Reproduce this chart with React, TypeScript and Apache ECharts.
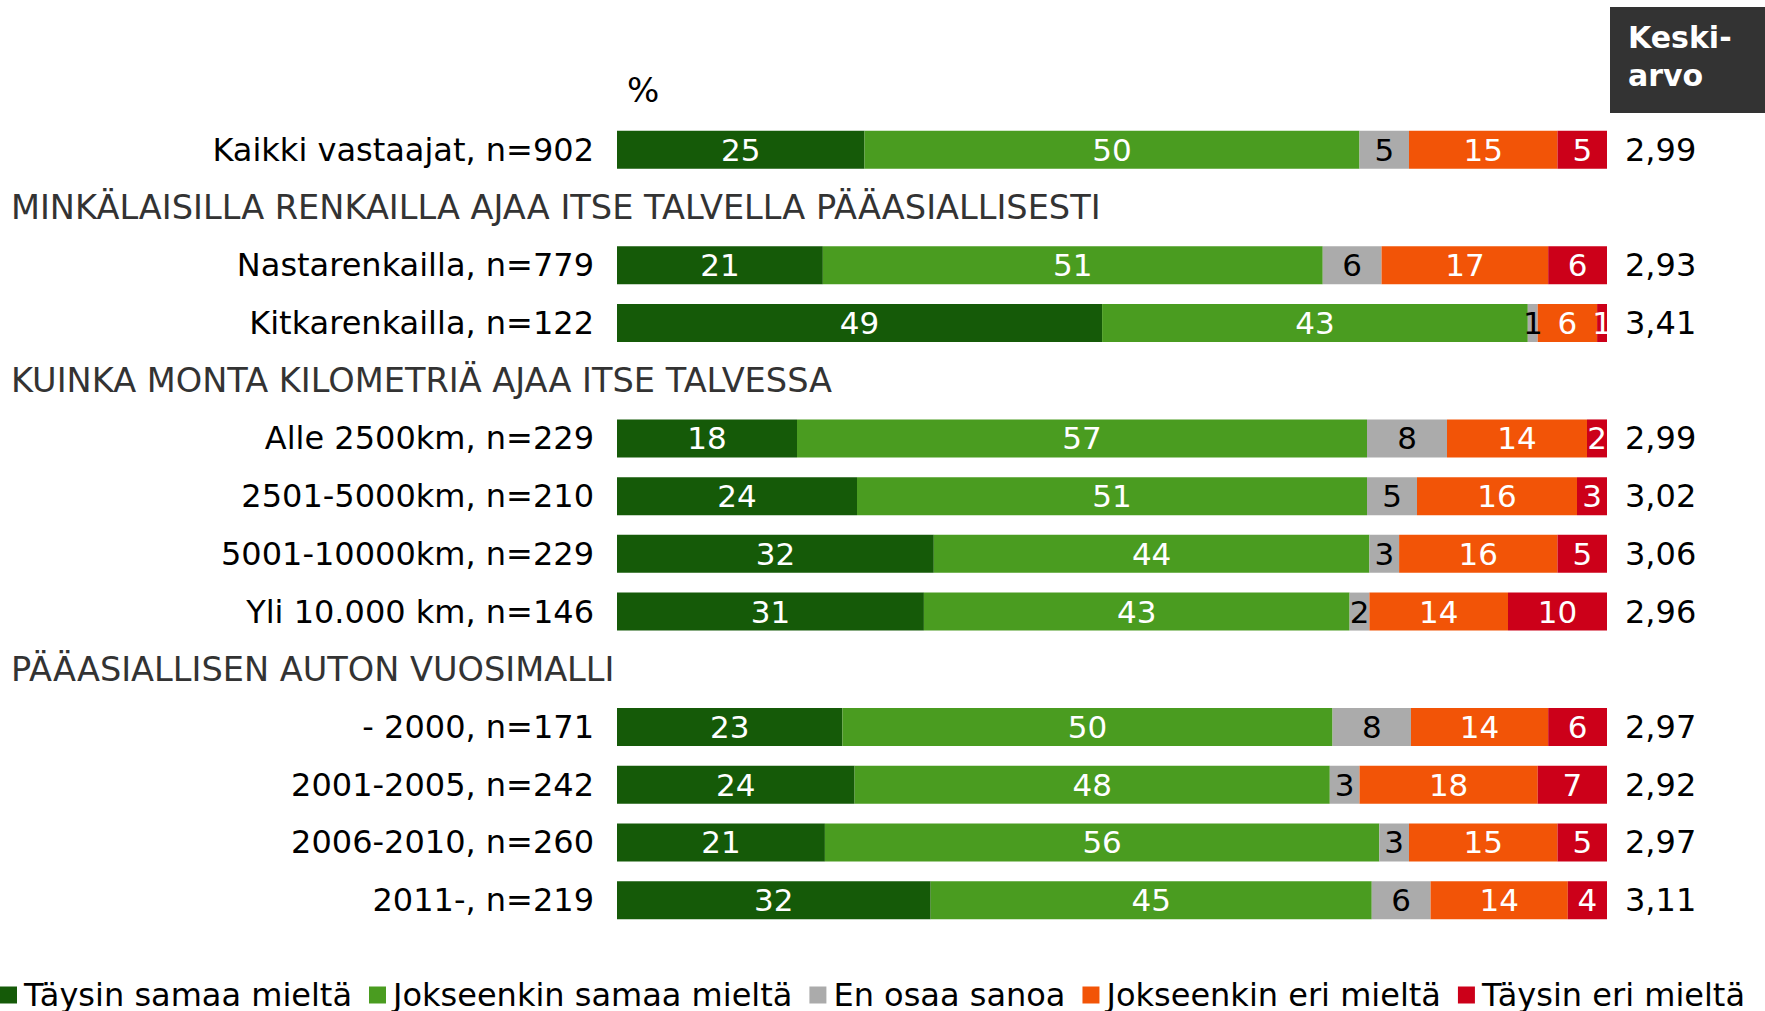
import React, { useEffect, useRef } from "react";
import * as echarts from "echarts";

const categories = [
  "Kaikki vastaajat, n=902",
  "MINKÄLAISILLA RENKAILLA AJAA ITSE TALVELLA PÄÄASIALLISESTI",
  "Nastarenkailla, n=779",
  "Kitkarenkailla, n=122",
  "KUINKA MONTA KILOMETRIÄ AJAA ITSE TALVESSA",
  "Alle 2500km, n=229",
  "2501-5000km, n=210",
  "5001-10000km, n=229",
  "Yli 10.000 km, n=146",
  "PÄÄASIALLISEN AUTON VUOSIMALLI",
  "- 2000, n=171",
  "2001-2005, n=242",
  "2006-2010, n=260",
  "2011-, n=219",
];
const isHeader = [false, true, false, false, true, false, false, false, false, true, false, false, false, false];

const seriesNames = [
  "Täysin samaa mieltä",
  "Jokseenkin samaa mieltä",
  "En osaa sanoa",
  "Jokseenkin eri mieltä",
  "Täysin eri mieltä",
];
const taysinSamaa = [25, null, 21, 49, null, 18, 24, 32, 31, null, 23, 24, 21, 32];
const jokseenkinSamaa = [50, null, 51, 43, null, 57, 51, 44, 43, null, 50, 48, 56, 45];
const enOsaa = [5, null, 6, 1, null, 8, 5, 3, 2, null, 8, 3, 3, 6];
const jokseenkinEri = [15, null, 17, 6, null, 14, 16, 16, 14, null, 14, 18, 15, 14];
const taysinEri = [5, null, 6, 1, null, 2, 3, 5, 10, null, 6, 7, 5, 4];
const means = ["2,99", "", "2,93", "3,41", "", "2,99", "3,02", "3,06", "2,96", "", "2,97", "2,92", "2,97", "3,11"];

const colors = ["#155A08", "#4A9C20", "#ABABAB", "#F25407", "#CC0019"];
const labelColors = ["#fff", "#fff", "#000", "#fff", "#fff"];

const FONT = "'DejaVu Sans', sans-serif";

export default function App() {
  const ref = useRef<HTMLDivElement>(null);
  useEffect(() => {
    if (!ref.current) return;
    const chart = echarts.init(ref.current, null, { renderer: "svg" });
    const all = [taysinSamaa, jokseenkinSamaa, enOsaa, jokseenkinEri, taysinEri];
    const sums = categories.map((_, i) =>
      all.reduce((s, arr) => s + (arr[i] == null ? 0 : (arr[i] as number)), 0)
    );
    const series = all.map((arr, si) => ({
      name: seriesNames[si],
      type: "bar",
      stack: "total",
      barWidth: 38,
      yAxisIndex: 0,
      itemStyle: { color: colors[si] },
      label: {
        show: true,
        position: "inside",
        color: labelColors[si],
        fontFamily: FONT,
        fontSize: 31,
        formatter: (p: any) => (p.data && p.data.raw != null ? String(p.data.raw) : ""),
      },
      data: arr.map((v, i) =>
        v == null ? { value: null, raw: null } : { value: (v / sums[i]) * 100, raw: v }
      ),
    }));
    chart.setOption({
      animation: false,
      grid: { left: 617, right: 158, top: 121, height: 808, containLabel: false },
      xAxis: { type: "value", min: 0, max: 100, show: false },
      yAxis: [
        {
          type: "category",
          inverse: true,
          data: categories,
          position: "left",
          axisLine: { show: false },
          axisTick: { show: false },
          axisLabel: {
            margin: 23,
            align: "right",
            color: "#000",
            fontFamily: FONT,
            fontSize: 32,
            formatter: (v: string, i: number) => (isHeader[i] ? "" : v),
          },
        },
        {
          type: "category",
          inverse: true,
          data: categories,
          position: "left",
          axisLine: { show: false },
          axisTick: { show: false },
          axisLabel: {
            margin: 606,
            align: "left",
            color: "#333",
            fontFamily: FONT,
            fontSize: 33.6,
            formatter: (v: string, i: number) => (isHeader[i] ? v : ""),
          },
        },
        {
          type: "category",
          inverse: true,
          data: means,
          position: "right",
          axisLine: { show: false },
          axisTick: { show: false },
          axisLabel: {
            margin: 18,
            align: "left",
            color: "#000",
            fontFamily: FONT,
            fontSize: 32,
          },
        },
      ],
      legend: {
        left: 0,
        top: 979,
        padding: 0,
        itemWidth: 17,
        itemHeight: 17,
        itemGap: 17,
        icon: "rect",
        textStyle: { fontFamily: FONT, fontSize: 32, color: "#000", padding: [0, 0, 0, 2] },
        data: seriesNames,
      },
      graphic: [
        {
          type: "rect",
          shape: { x: 1610, y: 7, width: 155, height: 106 },
          style: { fill: "#333333" },
        },
        {
          type: "text",
          x: 1628,
          y: 18,
          style: {
            text: "Keski-\narvo",
            fill: "#fff",
            fontFamily: FONT,
            fontWeight: "bold",
            fontSize: 30,
            lineHeight: 38,
          },
        },
        {
          type: "text",
          x: 627,
          y: 73,
          style: { text: "%", fill: "#000", fontFamily: FONT, fontSize: 34 },
        },
      ],
      series,
    });
    return () => chart.dispose();
  }, []);
  return <div ref={ref} style={{ width: 1765, height: 1011, position: "absolute", left: 0, top: 0 }} />;
}
